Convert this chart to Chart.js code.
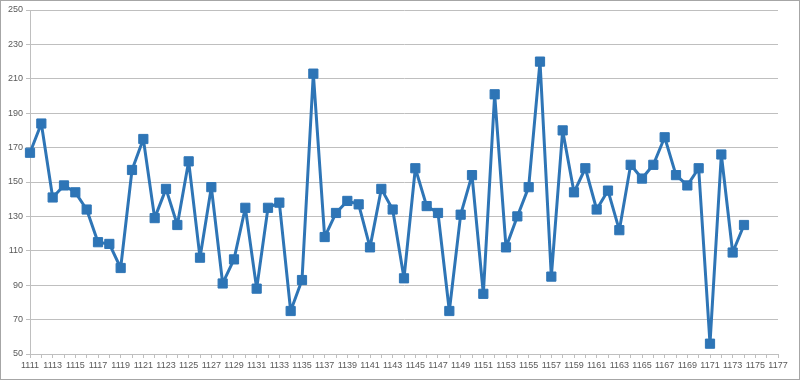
<!DOCTYPE html>
<html>
<head>
<meta charset="utf-8">
<script src="https://cdn.jsdelivr.net/npm/chart.js@4"></script>
<style>
html,body{margin:0;padding:0;background:#fff;}
#wrap{width:800px;height:380px;position:relative;}
</style>
</head>
<body>
<div id="wrap"><canvas id="c" width="800" height="380"></canvas></div>
<script>
const categories = [];
for (let y = 1111; y <= 1177; y++) categories.push(String(y));

const values = [
  167, 184, 141, 148, 144, 134, 115, 114, 100, 157,
  175, 129, 146, 125, 162, 106, 147, 91, 105, 135,
  88, 135, 138, 75, 93, 213, 118, 132, 139, 137,
  112, 146, 134, 94, 158, 136, 132, 75, 131, 154,
  85, 201, 112, 130, 147, 220, 95, 180, 144, 158,
  134, 145, 122, 160, 152, 160, 176, 154, 148, 158,
  56, 166, 109, 125
];

const yTicks = [50, 70, 90, 110, 130, 150, 170, 190, 210, 230, 250];

const borderPlugin = {
  id: 'outerBorder',
  afterDraw(chart) {
    const ctx = chart.ctx;
    ctx.save();
    ctx.strokeStyle = '#a6a6a6';
    ctx.lineWidth = 1;
    ctx.strokeRect(0.5, 0.5, chart.width - 1, chart.height - 1);
    ctx.restore();
  }
};

new Chart(document.getElementById('c'), {
  type: 'line',
  data: {
    labels: categories,
    datasets: [{
      data: values,
      borderColor: '#2E75B6',
      backgroundColor: '#2E75B6',
      borderWidth: 3,
      borderJoinStyle: 'round',
      borderCapStyle: 'round',
      pointStyle: 'rect',
      pointRadius: 6.5,
      pointBorderWidth: 1,
      pointBorderColor: '#2E75B6',
      pointBackgroundColor: '#2E75B6',
      tension: 0,
      fill: false
    }]
  },
  options: {
    responsive: false,
    animation: false,
    devicePixelRatio: 1,
    layout: { padding: { left: 0, right: 22, top: 10, bottom: 0 } },
    plugins: { legend: { display: false }, tooltip: { enabled: false } },
    scales: {
      x: {
        type: 'category',
        offset: false,
        grid: { display: true, drawOnChartArea: false, drawTicks: true, tickLength: 4, color: '#bfbfbf' },
        border: { display: true, color: '#bfbfbf' },
        ticks: {
          autoSkip: false,
          maxRotation: 0,
          minRotation: 0,
          padding: 2,
          color: '#595959',
          font: { family: 'Liberation Sans', size: 9 },
          callback: function(v, i) { return i % 2 === 0 ? categories[i] : ''; }
        },
        afterFit(scale) { scale.height = 26; }
      },
      y: {
        min: 50,
        max: 250,
        afterBuildTicks(scale) { scale.ticks = yTicks.map(v => ({ value: v })); },
        grid: { color: '#bfbfbf', tickLength: 4, drawTicks: true },
        border: { display: true, color: '#bfbfbf' },
        ticks: {
          padding: 3,
          color: '#595959',
          font: { family: 'Liberation Sans', size: 9 }
        },
        afterFit(scale) { scale.width = 30; }
      }
    }
  },
  plugins: [borderPlugin]
});
</script>
</body>
</html>
